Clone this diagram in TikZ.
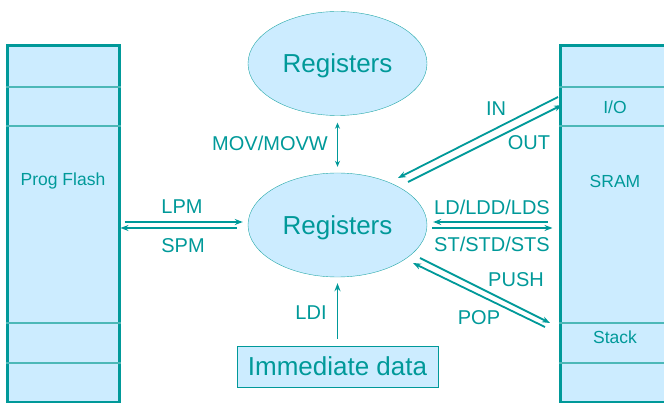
\documentclass[tikz,border=0pt]{standalone}
\usepackage{fontspec}
\setmainfont{Liberation Sans}
\usetikzlibrary{shapes.geometric, arrows.meta}
\definecolor{avrteal}{RGB}{0,153,153}
\definecolor{avrblue}{RGB}{204,236,255}

\begin{document}
\begin{tikzpicture}[
    x=1pt, y=-1pt,
    memblock/.style={rectangle, draw=avrteal, line width=3pt, fill=avrblue, minimum width=112pt, minimum height=357pt, inner sep=0pt},
    regfile/.style={ellipse, draw=avrteal!85, fill=avrblue, minimum width=179pt, minimum height=104pt, inner sep=0pt, text depth=0pt, text=avrteal, font=\fontsize{26}{30}\selectfont},
    databox/.style={rectangle, draw=avrteal, fill=avrblue, minimum width=201pt, minimum height=41pt, inner sep=0pt, text=avrteal, font=\fontsize{26}{30}\selectfont},
    memlabel/.style={text=avrteal, font=\fontsize{17.5}{20}\selectfont},
    oplabel/.style={text=avrteal, font=\fontsize{20}{24}\selectfont},
    divider/.style={draw=avrteal!70, line width=1.2pt},
    arrow/.style={-{Stealth[length=8pt,width=6pt]}, draw=avrteal, line width=1.8pt},
    dblarrow/.style={{Stealth[length=6pt,width=5pt]}-{Stealth[length=6pt,width=5pt]}, draw=avrteal, line width=1.8pt},
]
    \useasboundingbox (0,0) rectangle (664,403);

    % memories
    \node[memblock] (flash) at (63,224) {};
    \node[memblock] (sram) at (616,224) {};
    \foreach \y in {87,126,323,363} {
        \draw[divider] (flash.west |- 0,\y) -- (flash.east |- 0,\y);
        \draw[divider] (sram.west |- 0,\y) -- (sram.east |- 0,\y);
    }
    \node[memlabel] (flashtxt) at (63,181) {Prog Flash};
    \node[memlabel] (iotxt) at (615,107) {I/O};
    \node[memlabel] (sramtxt) at (615,181) {SRAM};
    \node[memlabel] (stacktxt) at (615,337) {Stack};

    % register file and immediate
    \node[regfile] (regtop) at (337.5,63.5) {Registers};
    \node[regfile] (regs) at (337.5,225) {Registers};
    \node[databox] (imm) at (337.5,366.5) {Immediate data};

    % free ends of the slanted pairs
    \coordinate (in-a) at (558,97);
    \coordinate (in-b) at (398,178);
    \coordinate (out-a) at (408,182);
    \coordinate (out-b) at (562,105);
    \coordinate (push-a) at (420,258);
    \coordinate (push-b) at (550,323);
    \coordinate (pop-a) at (545,327);
    \coordinate (pop-b) at (413,263);

    % transfers
    \draw[dblarrow, shorten <=7pt, shorten >=6pt] (regtop.south) -- (regs.north);
    \draw[arrow, shorten <=7pt, shorten >=6pt] (imm.north) -- (regs.south);

    \draw[arrow, shorten <=4pt, shorten >=5pt] (flash.east |- 0,222) -- (regs.west |- 0,222);
    \draw[arrow, shorten <=11pt, shorten >=0pt] (regs.west |- 0,228) -- (flash.east |- 0,228);

    \draw[arrow, shorten <=11pt, shorten >=6pt] (sram.west |- 0,222) -- (regs.east |- 0,222);
    \draw[arrow, shorten <=5pt, shorten >=6pt] (regs.east |- 0,228) -- (sram.west |- 0,228);

    \draw[arrow] (in-a) -- (in-b);
    \draw[arrow] (out-a) -- (out-b);
    \draw[arrow] (push-a) -- (push-b);
    \draw[arrow] (pop-a) -- (pop-b);

    % instruction names
    \node[oplabel] (mov) at (270,143) {MOV/MOVW};
    \node[oplabel] (ldi) at (311,313) {LDI};
    \node[oplabel] (lpm) at (182,207) {LPM};
    \node[oplabel] (spm) at (183,246) {SPM};
    \node[oplabel] (ld) at (492,207) {LD/LDD/LDS};
    \node[oplabel] (st) at (492,244) {ST/STD/STS};
    \node[oplabel] (in) at (496,109) {IN};
    \node[oplabel] (out) at (529,143) {OUT};
    \node[oplabel] (push) at (516,280) {PUSH};
    \node[oplabel] (pop) at (479,318) {POP};
\end{tikzpicture}
\end{document}
